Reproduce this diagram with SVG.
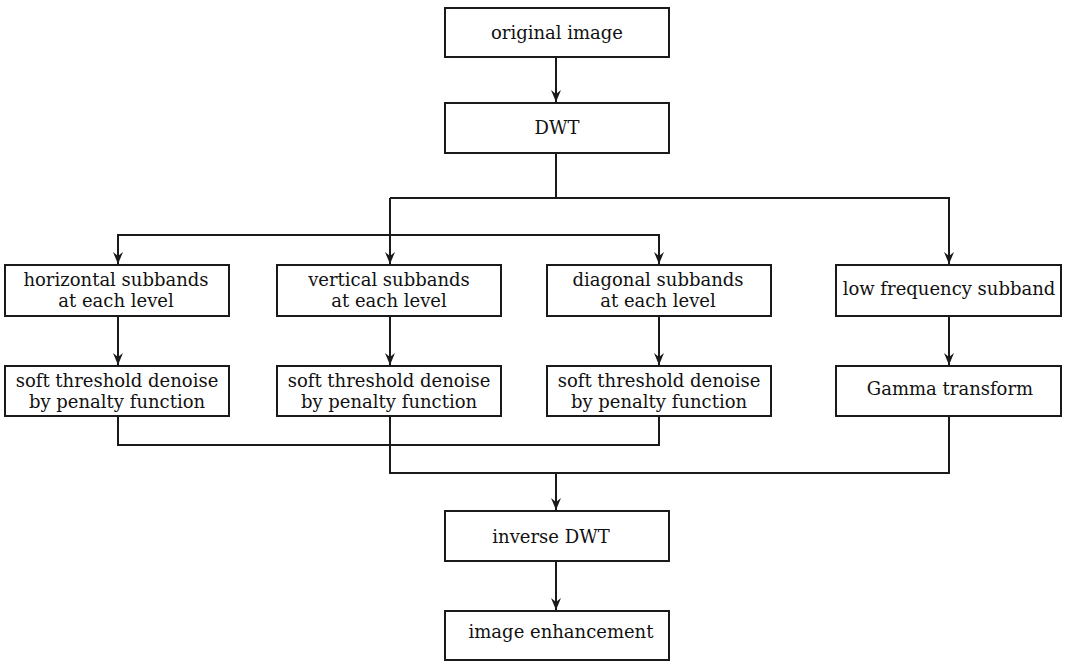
<svg xmlns="http://www.w3.org/2000/svg" width="1069" height="661" viewBox="0 0 1069 661">
<style>
.box{fill:#fff;stroke:#1a1a1a;stroke-width:2}
.t{font-family:"DejaVu Serif","Liberation Serif",serif;font-size:18px;fill:#111;text-anchor:middle}
.c{fill:none;stroke:#1a1a1a;stroke-width:2}
</style>
<defs>
<marker id="ah" viewBox="0 0 12 10" refX="12" refY="5" markerWidth="12" markerHeight="10" markerUnits="userSpaceOnUse" orient="auto">
<path d="M0,0 L12,5 L0,10 L4,5 z" fill="#1a1a1a"/>
</marker>
</defs>
<rect width="1069" height="661" fill="#fff"/>
<g id="connectors">
<path class="c" d="M556,57 V102" marker-end="url(#ah)"/>
<path class="c" d="M556,153 V198"/>
<path class="c" d="M390,198 H949 V264" marker-end="url(#ah)"/>
<path class="c" d="M390,198 V264" marker-end="url(#ah)"/>
<path class="c" d="M118,264 V235 H659 V264" marker-end="url(#ah)"/>
<path class="c" d="M118,235 V264" marker-end="url(#ah)"/>
<path class="c" d="M118,316 V365" marker-end="url(#ah)"/>
<path class="c" d="M390,316 V365" marker-end="url(#ah)"/>
<path class="c" d="M659,316 V365" marker-end="url(#ah)"/>
<path class="c" d="M949,316 V365" marker-end="url(#ah)"/>
<path class="c" d="M118,416 V445 H659 V416"/>
<path class="c" d="M390,416 V473 H949 V416"/>
<path class="c" d="M556,473 V510" marker-end="url(#ah)"/>
<path class="c" d="M556,561 V610" marker-end="url(#ah)"/>
</g>
<g id="n1"><rect class="box" x="445" y="8" width="224" height="49"/><text class="t" x="557" y="39">original image</text></g>
<g id="n2"><rect class="box" x="445" y="103" width="224" height="50"/><text class="t" x="557" y="134">DWT</text></g>
<g id="n3"><rect class="box" x="5" y="265" width="224" height="51"/><text class="t" x="116" y="286">horizontal subbands</text><text class="t" x="116" y="307">at each level</text></g>
<g id="n4"><rect class="box" x="277" y="265" width="224" height="51"/><text class="t" x="389" y="286">vertical subbands</text><text class="t" x="389" y="307">at each level</text></g>
<g id="n5"><rect class="box" x="547" y="265" width="224" height="51"/><text class="t" x="658" y="286">diagonal subbands</text><text class="t" x="658" y="307">at each level</text></g>
<g id="n6"><rect class="box" x="836" y="265" width="225" height="51"/><text class="t" x="949" y="295">low frequency subband</text></g>
<g id="n7"><rect class="box" x="5" y="366" width="224" height="50"/><text class="t" x="117" y="387">soft threshold denoise</text><text class="t" x="117" y="408">by penalty function</text></g>
<g id="n8"><rect class="box" x="277" y="366" width="224" height="50"/><text class="t" x="389" y="387">soft threshold denoise</text><text class="t" x="389" y="408">by penalty function</text></g>
<g id="n9"><rect class="box" x="547" y="366" width="224" height="50"/><text class="t" x="659" y="387">soft threshold denoise</text><text class="t" x="659" y="408">by penalty function</text></g>
<g id="n10"><rect class="box" x="836" y="366" width="225" height="50"/><text class="t" x="950" y="395">Gamma transform</text></g>
<g id="n11"><rect class="box" x="445" y="511" width="224" height="50"/><text class="t" x="551" y="543">inverse DWT</text></g>
<g id="n12"><rect class="box" x="445" y="611" width="224" height="49"/><text class="t" x="561" y="638">image enhancement</text></g>
</svg>
